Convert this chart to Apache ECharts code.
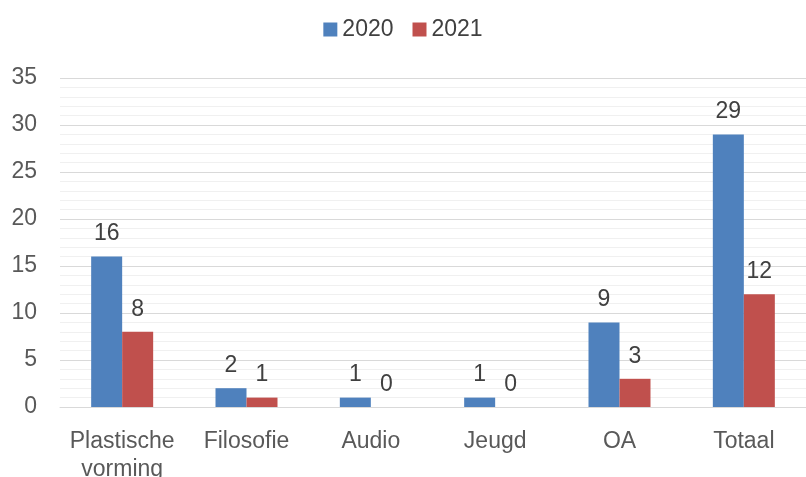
<!DOCTYPE html>
<html><head><meta charset="utf-8">
<script src="https://cdn.jsdelivr.net/npm/echarts@6/dist/echarts.min.js"></script>
<style>html,body{margin:0;padding:0;background:#fff}#c{width:806px;height:477px}</style>
</head><body><div id="c"></div>
<script>
const categories = ['Plastische\nvorming', 'Filosofie', 'Audio', 'Jeugd', 'OA', 'Totaal'];
const values2020 = [16, 2, 1, 1, 9, 29];
const values2021 = [8, 1, 0, 0, 3, 12];
const seriesNames = ['2020', '2021'];
const yTicks = { min: 0, max: 35, interval: 5 };

const font = '"Liberation Sans", Arial, sans-serif';
const chart = echarts.init(document.getElementById('c'), null, { renderer: 'canvas' });
const labelStyle = { show: true, position: 'top', distance: 11, fontSize: 23, color: '#404040', fontFamily: font };
chart.setOption({
  animation: false,
  legend: {
    top: 13, left: 'center', itemWidth: 14, itemHeight: 14, itemGap: 19, icon: 'rect',
    textStyle: { fontSize: 23, color: '#404040', fontFamily: font },
    data: seriesNames
  },
  grid: { left: 60, right: 0, top: 78, bottom: 70, containLabel: false, outerBoundsMode: 'none' },
  xAxis: {
    type: 'category', data: categories,
    axisLine: { lineStyle: { color: '#d9d9d9', width: 1 } },
    axisTick: { show: false },
    axisLabel: { fontSize: 23, color: '#595959', fontFamily: font, margin: 21, lineHeight: 28, interval: 0 }
  },
  yAxis: {
    type: 'value', min: yTicks.min, max: yTicks.max, interval: yTicks.interval,
    axisLine: { show: false }, axisTick: { show: false },
    axisLabel: { fontSize: 23, color: '#595959', fontFamily: font, margin: 23 },
    splitLine: { lineStyle: { color: '#d9d9d9', width: 1 } },
    minorTick: { show: false, splitNumber: 5 },
    minorSplitLine: { show: true, lineStyle: { color: '#f0f0f0', width: 1 } }
  },
  series: [
    { name: seriesNames[0], type: 'bar', data: values2020, barWidth: 31, barGap: '0%',
      itemStyle: { color: '#4F81BD' }, label: labelStyle },
    { name: seriesNames[1], type: 'bar', data: values2021, barWidth: 31, barGap: '0%',
      itemStyle: { color: '#C0504D' }, label: labelStyle }
  ]
});
</script></body></html>
